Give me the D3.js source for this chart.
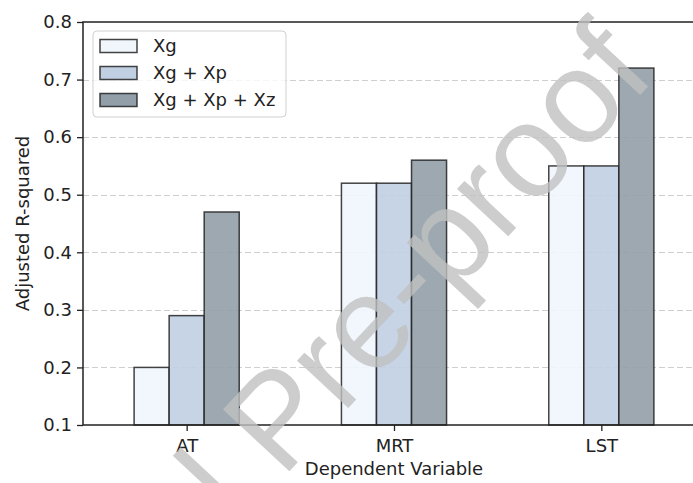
<!DOCTYPE html>
<html>
<head>
<meta charset="utf-8">
<script src="https://cdn.jsdelivr.net/npm/d3@7"></script>
<style>
  body { margin: 0; background: #fff; }
  svg { display: block; }
</style>
</head>
<body>
<div id="chart"></div>
<script>
// data
var categories = ["AT", "MRT", "LST"];
var seriesNames = ["Xg", "Xg + Xp", "Xg + Xp + Xz"];
var xgValues = [0.20, 0.52, 0.55];
var xgXpValues = [0.29, 0.52, 0.55];
var xgXpXzValues = [0.47, 0.56, 0.72];
var yTicks = [0.1, 0.2, 0.3, 0.4, 0.5, 0.6, 0.7, 0.8];
var colors = ["#f0f6fc", "#c0cfe2", "#929fa9"];

var series = [xgValues, xgXpValues, xgXpXzValues];

var width = 693, height = 483;
var margin = {top: 22, left: 83, bottom: 425, right: 705};

var svg = d3.select("#chart")
  .append("svg")
    .attr("width", width)
    .attr("height", height)
    .style("font-family", "'DejaVu Sans', sans-serif");

var x = d3.scaleLinear()
  .domain([-0.5, 2.5])
  .range([margin.left, margin.right]);

var y = d3.scaleLinear()
  .domain([0.1, 0.8])
  .range([margin.bottom, margin.top]);

var barW = x(0.169) - x(0);

// grid lines
svg.append("g")
  .selectAll("line")
  .data(yTicks.slice(1, -1))
  .enter()
  .append("line")
    .attr("x1", margin.left)
    .attr("x2", margin.right)
    .attr("y1", function(d) { return Math.round(y(d)) + 0.5; })
    .attr("y2", function(d) { return Math.round(y(d)) + 0.5; })
    .attr("stroke", "#cfcfcf")
    .attr("stroke-width", 1.2)
    .attr("stroke-dasharray", "6,3");

// bars
series.forEach(function(vals, s) {
  svg.append("g")
    .selectAll("rect")
    .data(vals)
    .enter()
    .append("rect")
      .attr("x", function(d, i) { return x(i) + (s - 1.5) * barW; })
      .attr("y", function(d) { return y(d); })
      .attr("width", barW)
      .attr("height", function(d) { return y(0.1) - y(d); })
      .attr("fill", colors[s])
      .attr("fill-opacity", 0.9)
      .attr("stroke", "#222")
      .attr("stroke-opacity", 0.85)
      .attr("stroke-width", 1.5);
});

// y axis
var yAxis = svg.append("g")
  .attr("transform", "translate(" + margin.left + ",0)")
  .call(d3.axisLeft(y).tickValues(yTicks).tickFormat(d3.format(".1f")).tickSize(6).tickPadding(5));

// x axis
var xAxis = svg.append("g")
  .attr("transform", "translate(0," + margin.bottom + ")")
  .call(d3.axisBottom(x).tickValues([0, 1, 2]).tickFormat(function(d) { return categories[d]; }).tickSize(6).tickPadding(8));

[yAxis, xAxis].forEach(function(ax) {
  ax.select(".domain").remove();
  ax.selectAll("line").attr("stroke", "#222").attr("stroke-width", 1.3);
  ax.selectAll("text").attr("fill", "#222").style("font-size", "18px").style("font-family", "'DejaVu Sans', sans-serif");
});

// spines
svg.append("rect")
  .attr("x", margin.left)
  .attr("y", margin.top)
  .attr("width", margin.right - margin.left)
  .attr("height", margin.bottom - margin.top)
  .attr("fill", "none")
  .attr("stroke", "#222")
  .attr("stroke-width", 1.5);

// axis labels
svg.append("text")
  .attr("x", (margin.left + margin.right) / 2)
  .attr("y", 475)
  .attr("text-anchor", "middle")
  .style("font-size", "18px")
  .attr("fill", "#222")
  .text("Dependent Variable");

svg.append("text")
  .attr("transform", "translate(29," + (margin.top + margin.bottom) / 2 + ") rotate(-90)")
  .attr("text-anchor", "middle")
  .style("font-size", "18px")
  .attr("fill", "#222")
  .text("Adjusted R-squared");

// legend
var legend = svg.append("g").attr("transform", "translate(93,31)");
legend.append("rect")
  .attr("width", 193)
  .attr("height", 86)
  .attr("rx", 4)
  .attr("fill", "#fff")
  .attr("fill-opacity", 0.8)
  .attr("stroke", "#d0d0d0");
seriesNames.forEach(function(name, i) {
  var row = legend.append("g").attr("transform", "translate(0," + (15 + i * 27) + ")");
  row.append("rect")
    .attr("x", 7)
    .attr("y", -6.5)
    .attr("width", 37)
    .attr("height", 13)
    .attr("fill", colors[i])
    .attr("stroke", "#222")
    .attr("stroke-opacity", 0.85)
    .attr("stroke-width", 1.5);
  row.append("text")
    .attr("x", 60)
    .attr("dy", "0.35em")
    .style("font-size", "18px")
    .attr("fill", "#222")
    .text(name);
});

// watermark, placed so that the second "o" of "proof" sits where it does in the figure
var wmSize = 132;
var wm = svg.append("g")
  .attr("transform", "translate(582,107) rotate(-47)");
var wmText = wm.append("text")
  .style("font-family", "'Liberation Sans', Arial, sans-serif")
  .style("font-size", wmSize + "px")
  .attr("fill", "#c0c0c0")
  .attr("fill-opacity", 0.8)
  .text("Journal Pre-proof");
var oIdx = "Journal Pre-pro".length;
var before = wmText.node().getSubStringLength(0, oIdx);
var oAdv = wmText.node().getSubStringLength(oIdx, 1);
wmText
  .attr("x", -(before + oAdv / 2))
  .attr("y", 0.26 * wmSize);
</script>
</body>
</html>
